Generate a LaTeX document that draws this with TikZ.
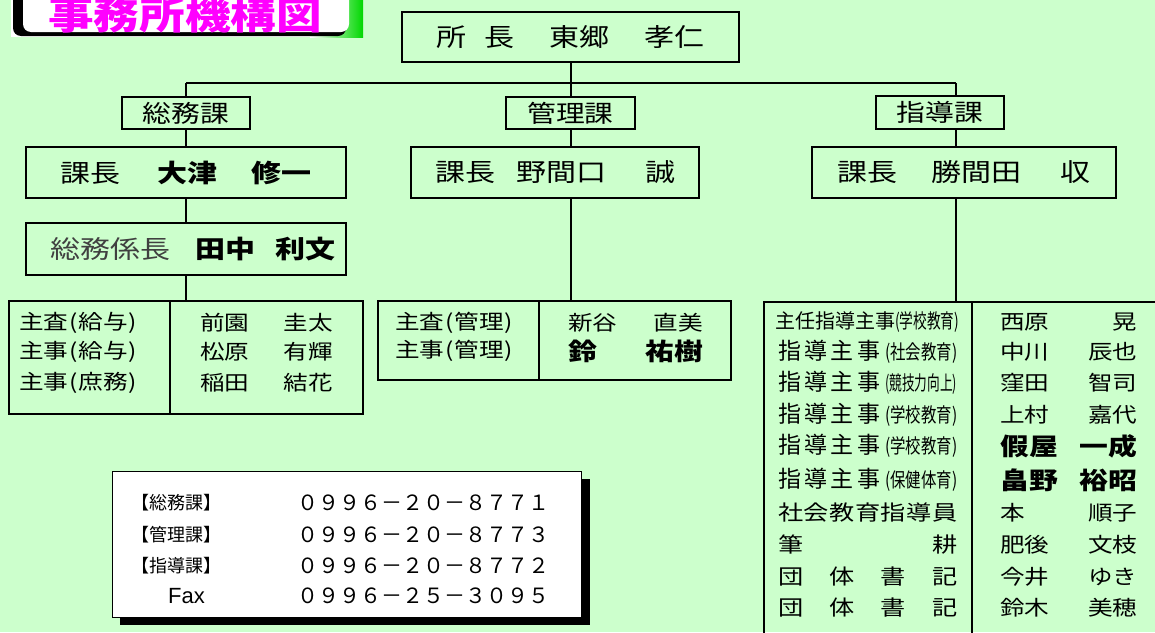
\documentclass[tikz,border=0pt]{standalone}
\usepackage{fontspec}
\usepackage{graphicx}
\setmainfont{Noto Sans CJK JP}[FakeStretch=1.2]
\newfontfamily\narrowjp{Noto Sans CJK JP}
\newfontfamily\latinsans{Liberation Sans}
\definecolor{bgmint}{RGB}{204,255,204}
\definecolor{titlepink}{RGB}{255,0,255}
\definecolor{titlegreen}{RGB}{0,215,0}
\newcommand{\pxsize}[1]{\fontsize{#1}{#1}\selectfont}
\newcommand{\kakL}{\makebox[0.5em]{(}}
\newcommand{\kakR}{\makebox[0.5em]{)}}
\newcommand{\shidoshuji}[1]{\makebox[179pt]{\makebox[102pt]{\narrowjp\pxsize{23}指\hfill 導\hfill 主\hfill 事}\hfill\resizebox{72pt}{\height}{\narrowjp\pxsize{20}(#1)}}}
\tikzset{
	orgbox/.style={draw, line width=2pt, inner sep=0pt},
	kabox/.style={orgbox, minimum width=128, minimum height=32, font=\pxsize{24}},
	chiefbox/.style={orgbox, minimum height=51, font=\pxsize{25}},
	staffline/.style={anchor=west, inner sep=0pt, font=\pxsize{20.5}},
	telline/.style={anchor=west, inner sep=0pt},
	link/.style={line width=2pt}
}
\begin{document}
\begin{tikzpicture}[x=1pt, y=-1pt]
			
			\useasboundingbox (0,0) rectangle (1155,632);
			\clip (0,0) rectangle (1155,632);
			\fill[bgmint] (0,0) rectangle (1155,632);
			
			\fill[white] (11,0) rectangle (363,37);
			\shade[left color=white, right color=titlegreen] (310,0) rectangle (363,37);
			\fill[black, rounded corners=8pt] (13,-10) rectangle (346,36);
			\fill[white, rounded corners=8pt] (23,-10) rectangle (349,32);
			\node[anchor=base, inner sep=0pt, text=titlepink, font=\pxsize{38}\bfseries] (title) at (185,29) {事務所機構図};
			
			\node[orgbox, minimum width=337, minimum height=50, font=\pxsize{25}] (top) at (570.5,37) {所\hspace{18pt}長\hspace{35pt}東郷\hspace{35pt}孝仁};
			
			\node[kabox] (soumu) at (186,113) {総務課};
			\node[kabox, minimum width=129] (kanri) at (570.5,113) {管理課};
			\node[kabox, minimum height=33] (shidou) at (940,112.5) {指導課};
			
			\node[chiefbox, minimum width=320] (soumuKacho) at (186,172.5) {課長\hspace{37pt}\textbf{大津\hspace{35pt}修一}};
			\node[chiefbox, minimum width=288] (kanriKacho) at (555,172.5) {課長\hspace{21pt}野間口\hspace{39pt}誠};
			\node[chiefbox, minimum width=304] (shidouKacho) at (964,172.5) {課長\hspace{35pt}勝間田\hspace{39pt}収};
			
			\node[chiefbox, minimum width=320, minimum height=52] (soumuKakari) at (186,249) {\hspace{14pt}{\color{black!75}総務係長}\hspace{25pt}\textbf{田中\hspace{20pt}利文}};
			
			\node[orgbox, minimum width=354, minimum height=113] (soumuStaff) at (186,357.5) {};
			\node[orgbox, minimum width=353, minimum height=79] (kanriStaff) at (554.5,340.5) {};
			\node[orgbox, minimum width=420, minimum height=360, anchor=north west] (shidouStaff) at (763,301) {};
			\draw[link] (170,301) -- (170,414);
			\draw[link] (539,301) -- (539,380);
			\draw[link] (972,301) -- (972,640);
			
			\coordinate (busL) at (186,83);
			\coordinate (busR) at (956,83);
			\draw[link] (busL) -- (busR);
			\draw[link] (top.south) -- (kanri.north);
			\draw[link] (busL) -- (soumu.north);
			\draw[link] (busR) -- (busR |- shidou.north);
			\draw[link] (soumu.south) -- (soumuKacho.north);
			\draw[link] (soumuKacho.south) -- (soumuKakari.north);
			\draw[link] (soumuKakari.south) -- (soumuStaff.north);
			\draw[link] (kanri.south) -- (kanri.south |- kanriKacho.north);
			\draw[link] (kanri.south |- kanriKacho.south) -- (kanri.south |- kanriStaff.north);
			\draw[link] (busR |- shidou.south) -- (busR |- shidouKacho.north);
			\draw[link] (busR |- shidouKacho.south) -- (busR |- shidouStaff.north);
			
			\node[staffline] (soumuL1) at (19,323) {主査\kakL 給与\kakR};
			\node[staffline] (soumuL2) at (19,352) {主事\kakL 給与\kakR};
			\node[staffline] (soumuL3) at (19,383) {主事\kakL 庶務\kakR};
			\node[staffline] (soumuR1) at (200,323) {\makebox[133pt]{前園\hfill 圭太}};
			\node[staffline] (soumuR2) at (200,352) {\makebox[133pt]{松原\hfill 有輝}};
			\node[staffline] (soumuR3) at (200,383) {\makebox[133pt]{稲田\hfill 結花}};
			
			\node[staffline] (kanriL1) at (395,323) {主査\kakL 管理\kakR};
			\node[staffline] (kanriL2) at (395,351) {主事\kakL 管理\kakR};
			\node[staffline] (kanriR1) at (568,323) {\makebox[135pt]{新谷\hfill 直美}};
			\node[staffline] (kanriR2) at (568,351) {\makebox[135pt]{\pxsize{24}\bfseries 鈴\hfill 祐樹}};
			
			\node[staffline] (shidouL1) at (775,322.5) {{\narrowjp\pxsize{20}主任指導主事}\resizebox{64pt}{\height}{\narrowjp\pxsize{20}(学校教育)}};
			\node[staffline] (shidouL2) at (778,352) {\shidoshuji{社会教育}};
			\node[staffline] (shidouL3) at (778,383) {\shidoshuji{競技力向上}};
			\node[staffline] (shidouL4) at (778,415) {\shidoshuji{学校教育}};
			\node[staffline] (shidouL5) at (778,446) {\shidoshuji{学校教育}};
			\node[staffline] (shidouL6) at (778,480) {\shidoshuji{保健体育}};
			\node[staffline, font=\pxsize{21}] (shidouL7) at (778,512.5) {\makebox[179pt]{社\hfill 会\hfill 教\hfill 育\hfill 指\hfill 導\hfill 員}};
			\node[staffline, font=\pxsize{21}] (shidouL8) at (778,545) {\makebox[179pt]{筆\hfill 耕}};
			\node[staffline, font=\pxsize{21}] (shidouL9) at (778,577) {\makebox[179pt]{団\hfill 体\hfill 書\hfill 記}};
			\node[staffline, font=\pxsize{21}] (shidouL10) at (778,607.5) {\makebox[179pt]{団\hfill 体\hfill 書\hfill 記}};
			
			\node[staffline] (shidouR1) at (1000,322.5) {\makebox[137pt]{西原\hfill 晃}};
			\node[staffline] (shidouR2) at (1000,352) {\makebox[137pt]{中川\hfill 辰也}};
			\node[staffline] (shidouR3) at (1000,383) {\makebox[137pt]{窪田\hfill 智司}};
			\node[staffline] (shidouR4) at (1000,415) {\makebox[137pt]{上村\hfill 嘉代}};
			\node[staffline] (shidouR5) at (1000,446) {\makebox[137pt]{\pxsize{24}\bfseries 假屋\hfill 一成}};
			\node[staffline] (shidouR6) at (1000,480) {\makebox[137pt]{\pxsize{24}\bfseries 畠野\hfill 裕昭}};
			\node[staffline] (shidouR7) at (1000,512.5) {\makebox[137pt]{本\hfill 順子}};
			\node[staffline] (shidouR8) at (1000,545) {\makebox[137pt]{肥後\hfill 文枝}};
			\node[staffline] (shidouR9) at (1000,577) {\makebox[137pt]{今井\hfill ゆき}};
			\node[staffline] (shidouR10) at (1000,607.5) {\makebox[137pt]{鈴木\hfill 美穂}};
			
			\fill[black] (120,479) rectangle (590,625);
			\node[draw, line width=1pt, fill=white, minimum width=469, minimum height=146] (telbox) at (346.5,544) {};
			\node[telline, font=\narrowjp\pxsize{18}] (telSoumu) at (131,503) {【総務課】};
			\node[telline, font=\narrowjp\pxsize{18}] (telKanri) at (131,535) {【管理課】};
			\node[telline, font=\narrowjp\pxsize{18}] (telShidou) at (131,566) {【指導課】};
			\node[telline, font=\latinsans\pxsize{22}] (telFax) at (168,596) {Fax};
			\node[telline, font=\narrowjp\pxsize{21}] (numSoumu) at (297,503) {０９９６－２０－８７７１};
			\node[telline, font=\narrowjp\pxsize{21}] (numKanri) at (297,535) {０９９６－２０－８７７３};
			\node[telline, font=\narrowjp\pxsize{21}] (numShidou) at (297,566) {０９９６－２０－８７７２};
			\node[telline, font=\narrowjp\pxsize{21}] (numFax) at (297,596) {０９９６－２５－３０９５};
			
\end{tikzpicture}
\end{document}
